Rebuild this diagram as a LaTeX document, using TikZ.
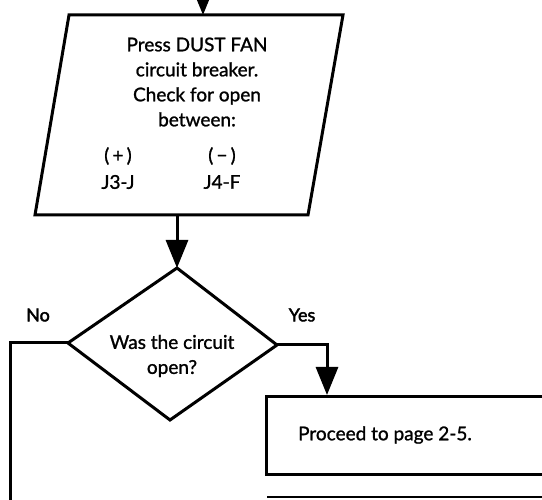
\documentclass[tikz,border=0pt]{standalone}
\usepackage{fontspec}
\setmainfont{Lato}
\newfontfamily\heavy[FakeBold=1.2]{Lato}
\newfontfamily\heavier[FakeBold=2.2]{Lato}
\usetikzlibrary{arrows.meta}
\tikzset{
  line/.style={line width=3pt, line join=miter},
  flow/.style={line, -{Triangle[width=22pt,length=28pt]}},
  txt/.style={font=\heavy\fontsize{19}{25}\selectfont, align=center, inner sep=0pt},
  lbl/.style={font=\heavier\fontsize{18}{20}\selectfont, inner sep=0pt}
}
\begin{document}
\begin{tikzpicture}[x=1pt,y=-1pt]
  \useasboundingbox (0,0) rectangle (542,500);
  \clip (0,0) rectangle (542,500);

  % parallelogram: action box
  \coordinate (pTL) at (69,15);
  \coordinate (pTR) at (343,15);
  \coordinate (pBR) at (308,215);
  \coordinate (pBL) at (35,215);
  \coordinate (pIn) at (203,15);
  \coordinate (pOut) at (177,215);
  \coordinate (src) at (203,-30);
  \draw[line] (pTL) -- (pTR) -- (pBR) -- (pBL) -- cycle;
  \node[txt] (ptext) at (197,82) {Press DUST FAN\\circuit breaker.\\Check for open\\between:};
  \node[txt] (plus) at (118,156) {(\,+\,)};
  \node[txt] (minus) at (222,156) {(\,−\,)};
  \node[txt] (j3) at (118,182) {J3-J};
  \node[txt] (j4) at (222,182) {J4-F};

  % decision diamond
  \coordinate (dT) at (177,268);
  \coordinate (dR) at (277,345);
  \coordinate (dB) at (170,420);
  \coordinate (dL) at (68,343);
  \draw[line] (dT) -- (dR) -- (dB) -- (dL) -- cycle;
  \node[txt] (dtext) at (172,356) {Was the circuit\\open?};
  \node[lbl] (no) at (38,315) {No};
  \node[lbl] (yes) at (302,315) {Yes};

  % result box
  \node[draw, line width=3pt, minimum width=290pt, minimum height=78pt,
        anchor=north west, inner sep=0pt] (res) at (265,395) {};
  \node[txt] (restext) at (385,435) {Proceed to page 2-5.};
  \coordinate (resIn) at (327,395);

  % top of the following box
  \coordinate (nxtL) at (267,497);
  \coordinate (nxtR) at (560,497);
  \draw[line width=2pt] (nxtL) -- (nxtR);

  % connectors
  \draw[flow] (src) -- (pIn);
  \draw[flow] (pOut) -- (dT);
  \coordinate (yesC) at (327,345);
  \draw[flow] (dR) -- (yesC) -- (resIn);
  \coordinate (noC) at (10,343);
  \coordinate (noEnd) at (10,520);
  \draw[line] (dL) -- (noC) -- (noEnd);
\end{tikzpicture}
\end{document}
